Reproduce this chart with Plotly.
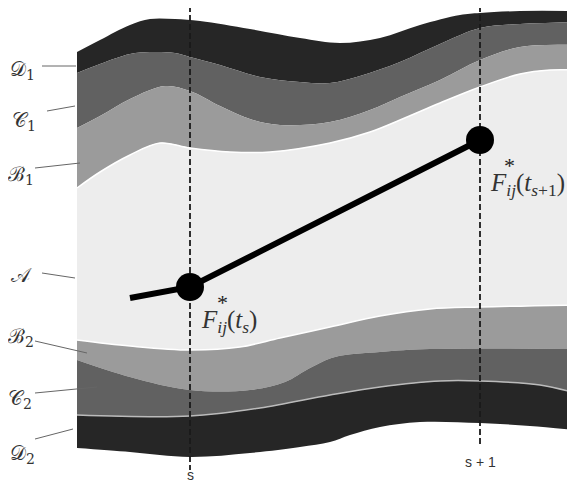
import plotly.graph_objects as go

# ---- data (pixel-like units; y grows downward) ----
top_x = [77, 100, 130, 150, 175, 200, 250, 300, 340, 380, 420, 460, 480, 520, 575]
top_y = [52, 40, 25, 19, 19, 21, 29, 38, 43, 38, 25, 15, 13, 11, 11]

d1c1_x = [77, 100, 130, 150, 175, 190, 220, 260, 300, 330, 360, 400, 440, 480, 520, 575]
d1c1_y = [73, 64, 54, 52, 53, 57, 65, 77, 82, 83, 76, 62, 44, 28, 24, 22]

c1b1_x = [77, 100, 130, 165, 190, 220, 250, 280, 330, 370, 400, 440, 480, 520, 575]
c1b1_y = [128, 116, 99, 86, 91, 106, 119, 125, 122, 110, 97, 80, 60, 47, 45]

b1a_x = [77, 100, 130, 160, 190, 230, 270, 330, 370, 400, 440, 480, 520, 550, 575]
b1a_y = [188, 172, 155, 143, 148, 152, 152, 143, 132, 120, 103, 87, 74, 70, 70]

ab2_x = [77, 130, 190, 240, 280, 330, 380, 430, 480, 575]
ab2_y = [340, 346, 350, 347, 338, 327, 316, 309, 307, 305]

b2c2_x = [77, 130, 190, 250, 285, 310, 335, 380, 430, 575]
b2c2_y = [360, 377, 390, 390, 382, 368, 357, 352, 349, 349]

c2d2_x = [77, 190, 260, 330, 380, 440, 480, 540, 575]
c2d2_y = [415, 416, 408, 395, 387, 381, 381, 385, 393]

bottom_x = [77, 130, 190, 250, 300, 330, 350, 380, 420, 480, 530, 575]
bottom_y = [448, 452, 457, 453, 447, 442, 435, 427, 422, 423, 426, 430]

# trajectory F*_ij
traj_x = [130, 190, 480]
traj_y = [298, 287, 140]
marker_x = [190, 480]
marker_y = [287, 140]

# time positions
t_pos = [190, 480]
t_labels = ["s", "s + 1"]
t_label_y = [475, 462]
t_line_bottom = [470, 447]

# region labels
region_labels = ["𝒟<sub>1</sub>", "𝒞<sub>1</sub>", "ℬ<sub>1</sub>", "𝒜",
                 "ℬ<sub>2</sub>", "𝒞<sub>2</sub>", "𝒟<sub>2</sub>"]
label_x = [22, 24, 21, 21, 21, 20, 22]
label_y = [70, 121, 175, 275, 337, 399, 454]
leader_x0 = [42, 47, 35, 42, 35, 35, 35]
leader_y0 = [66, 111, 168, 273, 341, 393, 439]
leader_x1 = [76, 75, 80, 75, 87, 97, 73]
leader_y1 = [66, 106, 163, 278, 353, 387, 429]

D_COL, C_COL, B_COL, A_COL = "#262626", "#616161", "#9b9b9b", "#ededed"

# page body has an 8px margin: offset the axis ranges so that units match pixels
OFF = 8

fig = go.Figure()

bounds = [
    (top_x, top_y, None, None),
    (d1c1_x, d1c1_y, D_COL, None),
    (c1b1_x, c1b1_y, C_COL, None),
    (b1a_x, b1a_y, B_COL, "white"),
    (ab2_x, ab2_y, A_COL, "white"),
    (b2c2_x, b2c2_y, B_COL, None),
    (c2d2_x, c2d2_y, C_COL, "#bbbbbb"),
    (bottom_x, bottom_y, D_COL, None),
]
for bx, by, fillc, linec in bounds:
    fig.add_trace(go.Scatter(
        x=bx, y=by, mode="lines",
        line=dict(shape="spline", width=1.5 if linec else 0, color=linec or "rgba(0,0,0,0)"),
        fill="tonexty" if fillc else None,
        fillcolor=fillc,
        hoverinfo="skip", showlegend=False))

# dashed time lines
for xp, yb in zip(t_pos, t_line_bottom):
    fig.add_trace(go.Scatter(
        x=[xp, xp], y=[6, yb], mode="lines",
        line=dict(color="#1a1a1a", width=1.8, dash="6px,3px"),
        hoverinfo="skip", showlegend=False))

# trajectory
fig.add_trace(go.Scatter(x=traj_x, y=traj_y, mode="lines",
                         line=dict(color="black", width=6),
                         hoverinfo="skip", showlegend=False))
fig.add_trace(go.Scatter(x=marker_x, y=marker_y, mode="markers",
                         marker=dict(color="black", size=28),
                         hoverinfo="skip", showlegend=False))

# annotations
for xp, lab, ly in zip(t_pos, t_labels, t_label_y):
    fig.add_annotation(x=xp, y=ly, text=lab, showarrow=False,
                       font=dict(family="Liberation Sans, Arial, sans-serif", size=14, color="#333"))

SERIF = "Liberation Serif, Times New Roman, DejaVu Serif, serif"
serif = dict(family=SERIF, size=25, color="#333")
fig.add_annotation(x=199, y=321, xanchor="left", text="<i>F</i><sub><i>ij</i></sub>(<i>t</i><sub><i>s</i></sub>)",
                   showarrow=False, font=serif)
fig.add_annotation(x=222, y=302, text="*", showarrow=False,
                   font=dict(family=SERIF, size=22, color="#222"))
fig.add_annotation(x=488, y=184, xanchor="left", text="<i>F</i><sub><i>ij</i></sub>(<i>t</i><sub><i>s</i>+1</sub>)",
                   showarrow=False, font=serif)
fig.add_annotation(x=509, y=165, text="*", showarrow=False,
                   font=dict(family=SERIF, size=22, color="#222"))

for lab, lx, ly, x0, y0, x1, y1 in zip(region_labels, label_x, label_y,
                                        leader_x0, leader_y0, leader_x1, leader_y1):
    fig.add_annotation(x=lx, y=ly, text=lab, showarrow=False,
                       font=dict(family="DejaVu Serif", size=20, color="#333"))
    fig.add_trace(go.Scatter(x=[x0, x1], y=[y0, y1], mode="lines",
                             line=dict(color="#666", width=1),
                             hoverinfo="skip", showlegend=False))

fig.update_layout(
    width=575, height=483, margin=dict(l=0, r=0, t=0, b=0),
    paper_bgcolor="white", plot_bgcolor="white",
    xaxis=dict(range=[OFF, 575 + OFF], visible=False, fixedrange=True),
    yaxis=dict(range=[483 + OFF, OFF], visible=False, fixedrange=True),
)
fig.write_html("out.html")
